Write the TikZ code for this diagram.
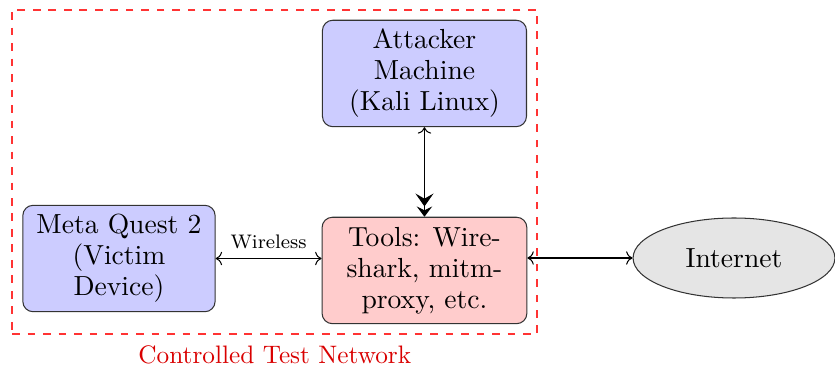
\documentclass[tikz,border=0pt]{standalone}
\usepackage{amsmath}
\usepackage{tikz}
\usetikzlibrary{positioning, arrows.meta, shapes.geometric, fit}

\begin{document}
\begin{tikzpicture}[node distance=3cm, on grid, auto,
    box/.style={draw=black!80, rounded corners, align=center, font=\fontsize{10.7}{12}\selectfont, minimum height=1.45cm},
    cloud/.style={ellipse, draw=black!80, fill=gray!20, font=\fontsize{10.7}{12}\selectfont, minimum width=2.75cm, minimum height=1.09cm},
    netframe/.style={draw=red!80, line width=0.8pt, dashed, inner sep=3.9pt}]
        \useasboundingbox (-5.783,3.685) rectangle (5.593,-1.315);
        \node[box, fill=red!20, minimum width=2.79cm]  (tools)    {Tools: Wire-\\shark, mitm-\\proxy, etc.};
        \node[box, fill=blue!20, minimum width=2.78cm] (attacker) [above=2.684cm of tools] {Attacker\\Machine\\(Kali Linux)};
        \node[box, fill=blue!20, minimum width=2.62cm] (meta)     [left=4.162cm of tools, yshift=0.163cm] {Meta Quest 2\\(Victim\\Device)};
        \node[cloud]                                   (internet) [right=4.217cm of tools, yshift=0.17cm] {Internet};
        \node[netframe, fit=(attacker)(meta)(tools)]   (net) {};
        \node[text=red!85!black, font=\fontsize{9.8}{12}\selectfont, yshift=-0.26cm] (netlabel) at (net.south) {Controlled Test Network};

        \draw[<->] (meta.east) -- (meta.east -| tools.west) node[midway, above, font=\fontsize{7.6}{9}\selectfont] {Wireless};
        \draw[<->] (internet.west -| tools.east) -- (internet.west);
        \draw[{To}-{Stealth[length=5pt,width=7pt,inset=2pt]Stealth[length=4pt,width=6pt,inset=1.5pt]}] (attacker.south) -- (tools.north);
\end{tikzpicture}
\end{document}
